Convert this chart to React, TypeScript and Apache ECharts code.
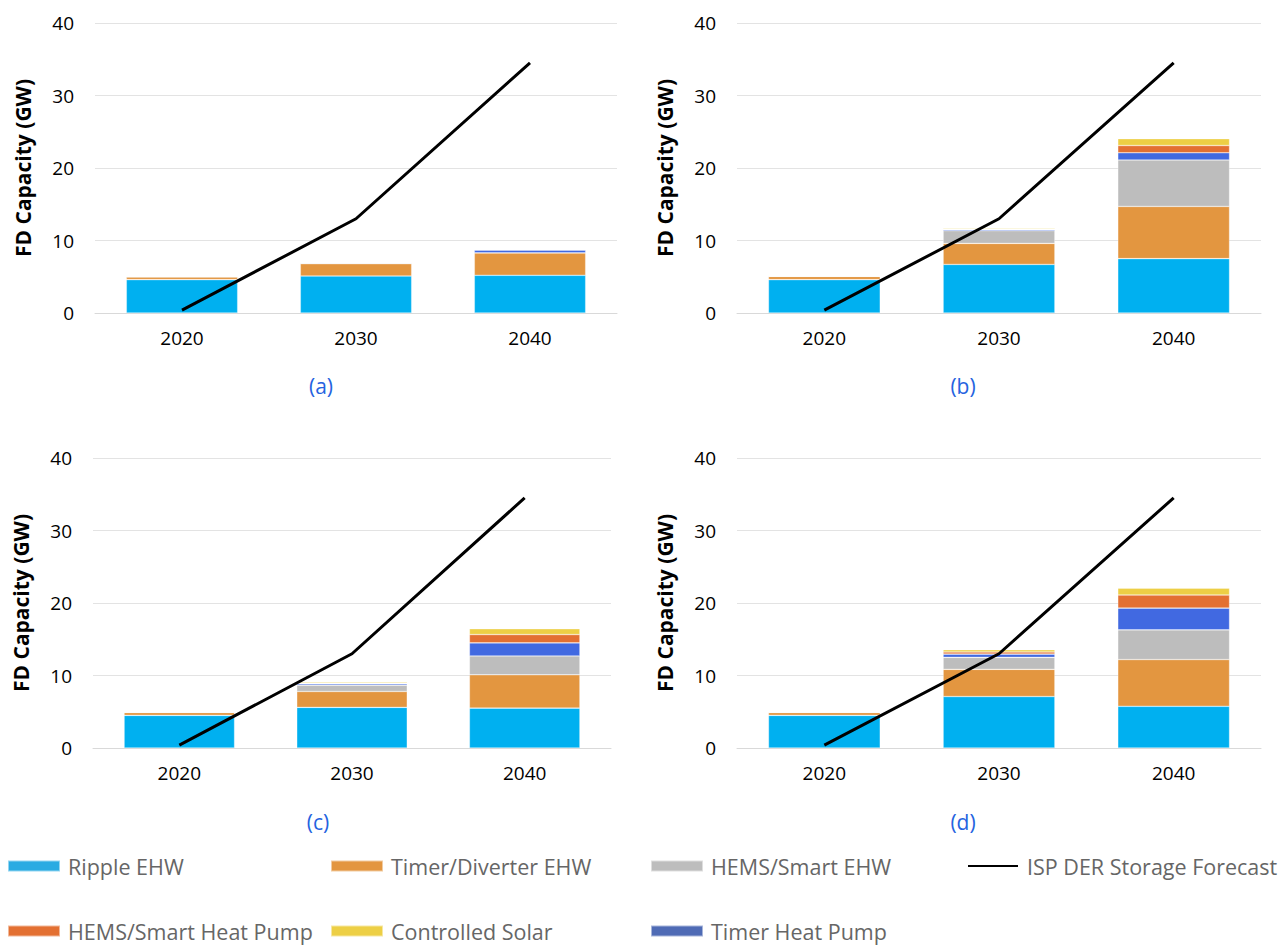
import React, { useEffect, useRef } from "react";
import * as echarts from "echarts";

const years = ["2020", "2030", "2040"];
const forecast = [0.4, 13.0, 34.5];

const seriesNames = [
  "Ripple EHW",
  "Timer/Diverter EHW",
  "HEMS/Smart EHW",
  "Timer Heat Pump",
  "HEMS/Smart Heat Pump",
  "Controlled Solar",
];
const lineName = "ISP DER Storage Forecast";

// Panel (a)
const rippleA = [4.6, 5.1, 5.2];
const timerA = [0.4, 1.7, 3.1];
const hemsA = [0, 0.1, 0];
const timerHPA = [0, 0, 0.4];
const hemsHPA = [0, 0, 0];
const solarA = [0, 0, 0];

// Panel (b)
const rippleB = [4.6, 6.7, 7.5];
const timerB = [0.45, 2.9, 7.2];
const hemsB = [0, 1.75, 6.4];
const timerHPB = [0, 0.15, 1.0];
const hemsHPB = [0, 0.05, 1.0];
const solarB = [0, 0.1, 0.95];

// Panel (c)
const rippleC = [4.5, 5.6, 5.5];
const timerC = [0.4, 2.2, 4.6];
const hemsC = [0, 0.85, 2.6];
const timerHPC = [0, 0.2, 1.8];
const hemsHPC = [0, 0.1, 1.15];
const solarC = [0, 0.15, 0.8];

// Panel (d)
const rippleD = [4.5, 7.1, 5.75];
const timerD = [0.4, 3.75, 6.45];
const hemsD = [0, 1.65, 4.1];
const timerHPD = [0, 0.45, 3.0];
const hemsHPD = [0, 0.3, 1.8];
const solarD = [0, 0.3, 0.95];

const panelLabels = ["(a)", "(b)", "(c)", "(d)"];

const barColors = ["#00B0F0", "#E39640", "#BDBDBD", "#4169E1", "#E37032", "#EDCF45"];
const legendColors = ["#29ABE2", "#E39640", "#BDBDBD", "#4F6BB5", "#E37032", "#EDCF45"];

const panels = [
  [rippleA, timerA, hemsA, timerHPA, hemsHPA, solarA],
  [rippleB, timerB, hemsB, timerHPB, hemsHPB, solarB],
  [rippleC, timerC, hemsC, timerHPC, hemsHPC, solarC],
  [rippleD, timerD, hemsD, timerHPD, hemsHPD, solarD],
];

const FONT = "'Open Sans', 'Noto Sans', sans-serif";

export default function App() {
  const ref = useRef<HTMLDivElement>(null);
  useEffect(() => {
    if (!ref.current) return;
    const chart = echarts.init(ref.current, null, { renderer: "svg" });

    const grids = [
      { left: 95, top: 23, width: 522, height: 290 },
      { left: 737, top: 23, width: 524, height: 290 },
      { left: 93, top: 458, width: 518, height: 290 },
      { left: 737, top: 458, width: 524, height: 290 },
    ];
    const labelPos = [
      [321, 386],
      [963, 386],
      [318, 822],
      [963, 822],
    ];

    const xAxis = grids.map((_, i) => ({
      type: "category",
      gridIndex: i,
      data: years,
      axisLine: { lineStyle: { color: "#D9D9D9", width: 1 } },
      axisTick: { show: false },
      axisLabel: { color: "#000", fontSize: 19, fontFamily: FONT, margin: 15 },
    }));
    const yAxis = grids.map((_, i) => ({
      type: "value",
      gridIndex: i,
      min: 0,
      max: 40,
      interval: 10,
      name: "FD Capacity (GW)",
      nameLocation: "middle",
      nameGap: 62,
      nameTextStyle: { color: "#000", fontSize: 21, fontWeight: "bold", fontFamily: FONT },
      axisLine: { show: false },
      axisTick: { show: false },
      splitLine: { lineStyle: { color: "#E3E3E3", width: 1 } },
      axisLabel: { color: "#000", fontSize: 19, fontFamily: FONT, margin: 21 },
    }));

    const series: any[] = [];
    panels.forEach((p, gi) => {
      p.forEach((vals, si) => {
        series.push({
          type: "bar",
          name: seriesNames[si],
          xAxisIndex: gi,
          yAxisIndex: gi,
          stack: "s" + gi,
          data: vals,
          barWidth: "64%",
          itemStyle: { color: barColors[si], borderColor: "rgba(255,255,255,0.5)", borderWidth: 0.6 },
        });
      });
      series.push({
        type: "line",
        name: lineName,
        xAxisIndex: gi,
        yAxisIndex: gi,
        data: forecast,
        symbol: "none",
        showSymbol: false,
        z: 5,
        lineStyle: { color: "#000", width: 3 },
        itemStyle: { color: "#000" },
      });
    });

    const legendLayout: [string, number, number, string][] = [
      [seriesNames[0], 7, 855, legendColors[0]],
      [seriesNames[1], 330, 855, legendColors[1]],
      [seriesNames[2], 650, 855, legendColors[2]],
      [seriesNames[4], 7, 920, legendColors[4]],
      [seriesNames[5], 330, 920, legendColors[5]],
      [seriesNames[3], 650, 920, legendColors[3]],
    ];
    const legends: any[] = legendLayout.map(([name, left, top, color]) => ({
      left,
      top,
      padding: 0,
      itemWidth: 52,
      itemHeight: 11,
      icon: "rect",
      selectedMode: false,
      data: [{ name, itemStyle: { color } }],
      textStyle: { color: "#666", fontSize: 21.5, fontFamily: FONT, padding: [0, 0, 0, 3] },
    }));
    legends.push({
      left: 968,
      top: 855,
      padding: 0,
      itemWidth: 50,
      itemHeight: 2,
      icon: "rect",
      selectedMode: false,
      data: [{ name: lineName, itemStyle: { color: "#000" } }],
      textStyle: { color: "#666", fontSize: 21.5, fontFamily: FONT, padding: [0, 0, 0, 4] },
    });

    chart.setOption({
      animation: false,
      textStyle: { fontFamily: FONT },
      grid: grids,
      xAxis,
      yAxis,
      legend: legends,
      series,
      graphic: labelPos.map(([x, y], i) => ({
        type: "text",
        x,
        y,
        style: {
          text: panelLabels[i],
          fill: "#2563E0",
          fontSize: 21,
          fontFamily: FONT,
          align: "center",
          verticalAlign: "middle",
        },
      })),
    });
    return () => chart.dispose();
  }, []);
  return <div ref={ref} style={{ width: 1288, height: 945, position: "absolute", left: 0, top: 0 }} />;
}
